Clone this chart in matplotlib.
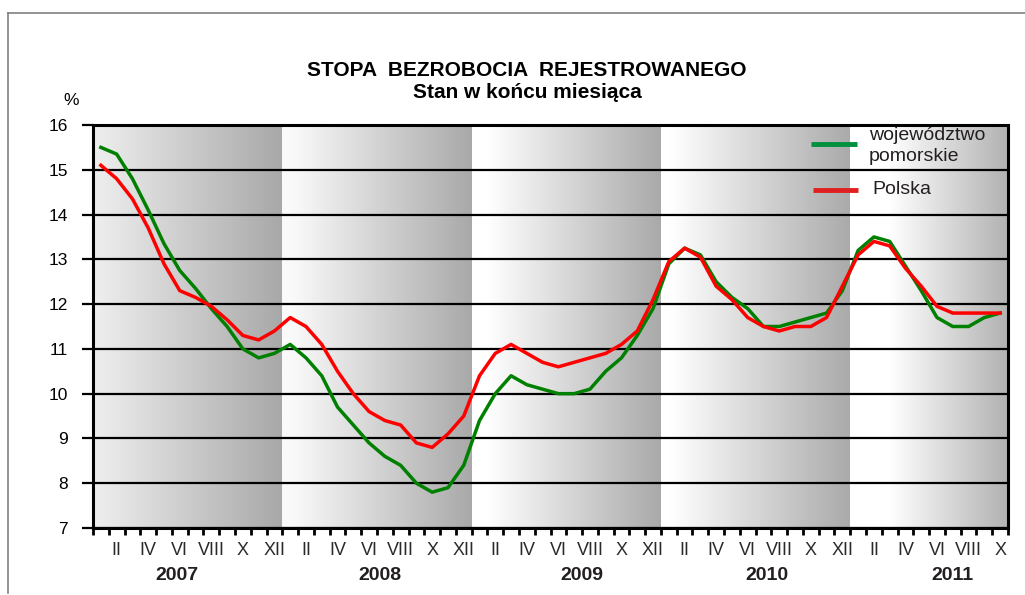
import numpy as np
import matplotlib
matplotlib.use("Agg")
import matplotlib.pyplot as plt
from matplotlib.lines import Line2D
from matplotlib import transforms

plt.rcParams['font.family'] = ['Liberation Sans', 'DejaVu Sans']

#----Data: monthly unemployment rate, I 2007 - X 2011----
years = ['2007', '2008', '2009', '2010', '2011']
monthsPerYear = [12, 12, 12, 12, 10]
romanLabels = ['II', 'IV', 'VI', 'VIII', 'X', 'XII']

pomorskie = [15.5, 15.35, 14.8, 14.1, 13.35, 12.75, 12.35, 11.9, 11.5, 11.0, 10.8, 10.9,
             11.1, 10.8, 10.4, 9.7, 9.3, 8.9, 8.6, 8.4, 8.0, 7.8, 7.9, 8.4,
             9.4, 10.0, 10.4, 10.2, 10.1, 10.0, 10.0, 10.1, 10.5, 10.8, 11.3, 11.9,
             12.9, 13.25, 13.1, 12.5, 12.15, 11.9, 11.5, 11.5, 11.6, 11.7, 11.8, 12.3,
             13.2, 13.5, 13.4, 12.85, 12.3, 11.7, 11.5, 11.5, 11.7, 11.8]
polska = [15.1, 14.8, 14.35, 13.7, 12.9, 12.3, 12.15, 11.95, 11.65, 11.3, 11.2, 11.4,
          11.7, 11.5, 11.1, 10.5, 10.0, 9.6, 9.4, 9.3, 8.9, 8.8, 9.1, 9.5,
          10.4, 10.9, 11.1, 10.9, 10.7, 10.6, 10.7, 10.8, 10.9, 11.1, 11.4, 12.1,
          12.95, 13.25, 13.05, 12.4, 12.1, 11.7, 11.5, 11.4, 11.5, 11.5, 11.7, 12.4,
          13.1, 13.4, 13.3, 12.8, 12.4, 11.95, 11.8, 11.8, 11.8, 11.8]

nMonths = sum(monthsPerYear)
xValues = np.arange(nMonths) + 0.5

#----Figure----
fig = plt.figure(figsize=(10.25, 5.95), dpi=100)
ax = fig.add_axes([93/1025, 67/595, 915/1025, 403/595])

# background bands with horizontal gradient (one per year)
bandStart = ['#efefef', '#fafafa', '#ffffff', '#ffffff', '#ffffff']
bandFlat = [0.0, 0.05, 0.08, 0.05, 0.25]
bandEnd = ['#a8a8a8', '#a9a9a9', '#a9a9a9', '#aaaaaa', '#b2b2b2']
x0 = 0
for i, n in enumerate(monthsPerYear):
    t = np.linspace(0, 1, 256)
    t = np.clip((t - bandFlat[i]) / (1 - bandFlat[i]), 0, 1)
    c0 = np.array(matplotlib.colors.to_rgb(bandStart[i]))
    c1 = np.array(matplotlib.colors.to_rgb(bandEnd[i]))
    grad = c0[None, :] * (1 - t[:, None]) + c1[None, :] * t[:, None]
    ax.imshow(grad[None, :, :], extent=[x0, x0 + n, 7, 16], aspect='auto',
              interpolation='bilinear', zorder=0)
    x0 += n

ax.plot(xValues, pomorskie, color='#008000', lw=2.5, zorder=3)
ax.plot(xValues, polska, color='#ff0000', lw=2.5, zorder=4)

ax.set_xlim(0, nMonths)
ax.set_ylim(7, 16)
ax.set_yticks(range(7, 17))
ax.grid(axis='y', color='black', lw=1.6)
for s in ax.spines.values():
    s.set_linewidth(2.2)
ax.tick_params(axis='y', direction='out', length=8, width=1.6, labelsize=12.5, pad=10)

# month ticks at boundaries, roman labels under every second month
ax.set_xticks(range(nMonths + 1))
ax.set_xticklabels([])
ax.tick_params(axis='x', which='major', direction='out', length=5, width=2)
labelPos = []
labelTxt = []
start = 0
for n in monthsPerYear:
    for k in range(1, n, 2):
        labelPos.append(start + k + 0.5)
        labelTxt.append(romanLabels[k // 2])
    start += n
ax.set_xticks(labelPos, minor=True)
ax.set_xticklabels(labelTxt, minor=True, fontsize=13, color='#2a2a2a')
ax.tick_params(axis='x', which='minor', length=0, pad=10)

trans = transforms.blended_transform_factory(ax.transData, ax.transAxes)
yearPos = [5.3, 18.2, 31.0, 42.7, 54.5]
for yr, xp in zip(years, yearPos):
    ax.text(xp, -0.118, yr, transform=trans, ha='center', va='center',
            fontsize=14, fontweight='bold', color='#231f20')

#----Legend (drawn by hand)----
ax.plot([0.785, 0.835], [0.953, 0.953], transform=ax.transAxes, color='#009040',
        lw=3.5, solid_capstyle='butt', zorder=5)
ax.text(0.848, 0.975, 'województwo', transform=ax.transAxes, fontsize=14,
        va='center', color='#231f20')
ax.text(0.848, 0.923, 'pomorskie', transform=ax.transAxes, fontsize=14,
        va='center', color='#231f20')
ax.plot([0.787, 0.836], [0.839, 0.839], transform=ax.transAxes, color='#e02020',
        lw=3.5, solid_capstyle='butt', zorder=5)
ax.text(0.852, 0.839, 'Polska', transform=ax.transAxes, fontsize=14,
        va='center', color='#231f20')

#----Titles and frame----
fig.text(527/1025, 1 - 70/595, 'STOPA  BEZROBOCIA  REJESTROWANEGO', ha='center',
         va='center', fontsize=15, fontweight='bold')
fig.text(527/1025, 1 - 93/595, 'Stan w końcu miesiąca', ha='center',
         va='center', fontsize=15, fontweight='bold')
fig.text(71/1025, 1 - 100/595, '%', ha='center', va='center', fontsize=12.5)

fig.add_artist(Line2D([8/1025, 1], [1 - 13/595, 1 - 13/595], transform=fig.transFigure,
                      color='#808080', lw=1.2))
fig.add_artist(Line2D([8/1025, 8/1025], [1 - 13/595, 1 - 593/595], transform=fig.transFigure,
                      color='#808080', lw=1.2))

fig.savefig('out.png', dpi=100)
